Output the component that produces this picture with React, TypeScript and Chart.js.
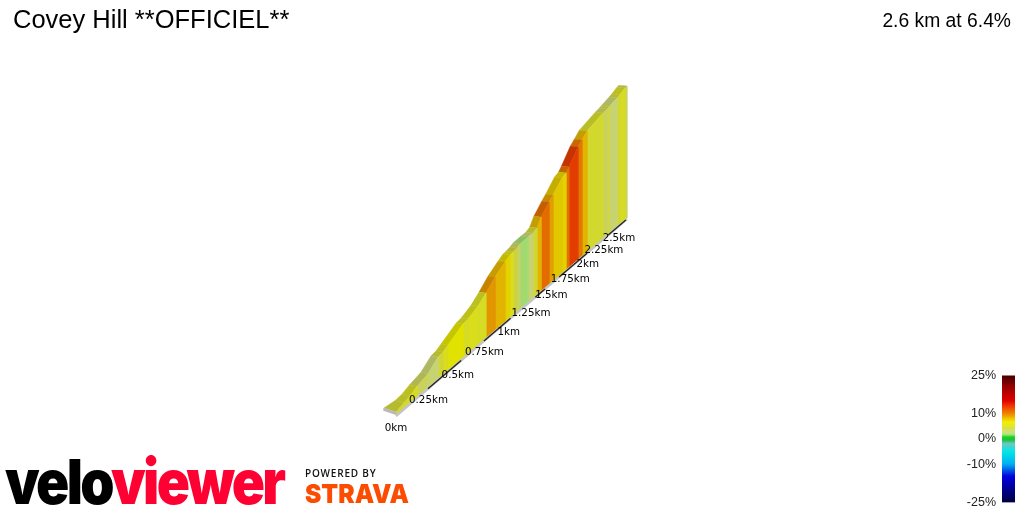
import { useEffect, useRef } from "react";
import { Chart, registerables } from "chart.js";

Chart.register(...registerables);

// road profile
const distanceKm = [
  0, 0.059, 0.105, 0.159, 0.246, 0.329, 0.371, 0.414, 0.547, 0.593, 0.687, 0.765, 0.856, 0.96, 1.013, 1.047, 1.09,
  1.124, 1.215, 1.273, 1.321, 1.371, 1.47, 1.52, 1.637, 1.692, 1.732, 1.857, 1.915, 1.989, 2.235, 2.3, 2.33, 2.467,
  2.517, 2.605, 2.64,
];
const elevationM = [
  2.4, 4.5, 6, 9, 12, 19.2, 20, 22.6, 30.6, 31.5, 36.2, 42.6, 51.3, 58.5, 61.8, 62.5, 63.7, 65.5, 66.7, 67.1, 69.3,
  77.6, 87.6, 92.3, 104.3, 106.9, 111.4, 127.6, 132.7, 139.6, 150, 152, 153.3, 158.8, 161, 165.7, 167,
];
const gradientPct = [
  4.5, 4.8, 5.2, 3.4, 3, 4.5, 5.5, 6.5, 5.2, 5.5, 5.2, 9, 8, 7, 5.5, 4, 3.2, 1.5, 3, 4.5, 8, 10.5, 8.7, 7.4, 7, 10.3,
  12.5, 10, 8, 4.8, 3.4, 4.6, 3, 4.6, 5.2, 3.4,
];
const darkEdgeKm = [
  [0.246, 0.53],
  [0.745, 1.02],
  [1.3, 1.42],
  [1.6, 1.99],
  [2.32, 2.62],
];
const kmTicks = [0, 0.25, 0.5, 0.75, 1, 1.25, 1.5, 1.75, 2, 2.25, 2.5];
const kmTickLabels = ["0km", "0.25km", "0.5km", "0.75km", "1km", "1.25km", "1.5km", "1.75km", "2km", "2.25km", "2.5km"];

// colour scale
const rampPct = [-25, -20, -15, -10, -5, -2, -1, 0, 1, 1.5, 3, 4, 5, 6.5, 8, 10, 12.5, 15, 20, 25];
const rampRgb = [
  [0, 0, 64],
  [0, 0, 144],
  [0, 0, 224],
  [0, 176, 240],
  [0, 232, 232],
  [112, 200, 192],
  [48, 192, 96],
  [0, 208, 32],
  [80, 208, 64],
  [172, 232, 118],
  [212, 224, 120],
  [218, 222, 70],
  [226, 232, 44],
  [240, 240, 0],
  [240, 192, 0],
  [240, 128, 0],
  [240, 64, 0],
  [224, 0, 0],
  [160, 0, 0],
  [64, 0, 0],
];
const legendTicks = [-25, -10, 0, 10, 25];
const legendBands = Array.from({ length: 100 }, (_, i) => -25 + i * 0.5);

const rampColor = (pct: number, shade = 1) => {
  let i = 0;
  while (i < rampPct.length - 2 && pct > rampPct[i + 1]) i++;
  const t = (pct - rampPct[i]) / (rampPct[i + 1] - rampPct[i]);
  const c = rampRgb[i].map((v, j) => Math.round((v + (rampRgb[i + 1][j] - v) * t) * shade));
  return `rgb(${c[0]},${c[1]},${c[2]})`;
};

// oblique perspective view of the road ribbon; back = far edge of the road surface
const project = (km: number, metres: number, back = 0) => {
  const s = 1 + 0.2135 * km;
  const flare = 1 / (1 + 20 * km);
  return {
    x: 396 + (136.8 * km) / s - back * (6 + 0.8 * km + 6 * flare),
    y: 415 - (116.6 * km + 1.237 * metres) / s - back * (0.5 + 3.5 * flare),
  };
};

const polygon = (points: { x: number; y: number }[], color: string) => ({
  data: points,
  fill: "shape",
  showLine: true,
  backgroundColor: color,
  borderColor: color,
  borderWidth: 0.6,
  pointRadius: 0,
});

const edgeLine = (from: number, to: number, color: string, width: number) => ({
  data: [project(from, 0), project(to, 0)].map((p) => ({ x: p.x, y: p.y + 1 })),
  showLine: true,
  fill: false,
  borderColor: color,
  borderWidth: width,
  pointRadius: 0,
});

const kmLabelPlugin = {
  id: "kmLabels",
  afterDatasetsDraw(chart: any) {
    const { ctx, scales } = chart;
    ctx.save();
    ctx.font = '10.3px "DejaVu Sans"';
    ctx.fillStyle = "#000";
    ctx.textAlign = "center";
    ctx.textBaseline = "middle";
    kmTicks.forEach((km, i) => {
      const p = project(km, 0);
      ctx.fillText(kmTickLabels[i], scales.x.getPixelForValue(p.x), scales.y.getPixelForValue(p.y) + 13);
    });
    ctx.restore();
  },
};

const App = () => {
  const profileRef = useRef<HTMLCanvasElement>(null);
  const legendRef = useRef<HTMLCanvasElement>(null);

  useEffect(() => {
    const walls = gradientPct.map((g, i) =>
      polygon(
        [
          project(distanceKm[i], 0),
          project(distanceKm[i], elevationM[i]),
          project(distanceKm[i + 1], elevationM[i + 1]),
          project(distanceKm[i + 1], 0),
        ],
        rampColor(g, 0.94)
      )
    );
    const tops = gradientPct.map((g, i) =>
      polygon(
        [
          project(distanceKm[i], elevationM[i]),
          project(distanceKm[i + 1], elevationM[i + 1]),
          project(distanceKm[i + 1], elevationM[i + 1], 1),
          project(distanceKm[i], elevationM[i], 1),
        ],
        rampColor(g, 0.82)
      )
    );
    const cap = polygon(
      [project(0, 0), project(0, elevationM[0]), project(0, elevationM[0], 1), project(0, 0, 1)],
      "#b9b9b9"
    );
    const lastKm = distanceKm[distanceKm.length - 1];

    const profile = new Chart(profileRef.current, {
      type: "scatter",
      data: {
        datasets: [
          ...darkEdgeKm.map(([a, b]) => edgeLine(a, b, "#222", 1.3)),
          edgeLine(0, lastKm, "#c4c4c4", 2.4),
          cap,
          ...walls,
          ...tops,
        ],
      },
      options: {
        animation: false,
        responsive: false,
        devicePixelRatio: 1,
        layout: { padding: 0 },
        plugins: { legend: { display: false }, tooltip: { enabled: false } },
        scales: {
          x: { type: "linear", min: 0, max: 1024, display: false },
          y: { type: "linear", min: 0, max: 512, reverse: true, display: false },
        },
      },
      plugins: [kmLabelPlugin],
    } as any);

    const legend = new Chart(legendRef.current, {
      type: "bar",
      data: {
        labels: ["gradient"],
        datasets: legendBands.map((g) => ({
          data: [[g, g + 0.55]],
          backgroundColor: rampColor(g + 0.25),
          grouped: false,
          barPercentage: 1,
          categoryPercentage: 1,
        })),
      },
      options: {
        animation: false,
        responsive: false,
        devicePixelRatio: 1,
        layout: { padding: 0 },
        plugins: { legend: { display: false }, tooltip: { enabled: false } },
        scales: {
          x: { display: false },
          y: {
            min: -25,
            max: 25,
            grid: { display: false, drawTicks: false },
            border: { display: false },
            afterBuildTicks: (axis: any) => {
              axis.ticks = legendTicks.map((value) => ({ value }));
            },
            afterFit: (axis: any) => {
              axis.width = 47;
            },
            ticks: {
              padding: 6,
              color: "#222",
              font: { family: '"Liberation Sans"', size: 12.5 },
              callback: (v: any) => `${v}%`,
            },
          },
        },
      },
    } as any);

    return () => {
      profile.destroy();
      legend.destroy();
    };
  }, []);

  return (
    <div style={{ position: "absolute", left: 0, top: 0, width: 1024, height: 512, overflow: "hidden", background: "#fff" }}>
      <canvas ref={profileRef} width={1024} height={512} style={{ position: "absolute", left: 0, top: 0 }} />
      <canvas ref={legendRef} width={60} height={154} style={{ position: "absolute", left: 955, top: 362 }} />
      <div style={{ position: "absolute", left: 13, top: 5, font: '25.5px "Liberation Sans"', color: "#000", whiteSpace: "nowrap" }}>
        Covey Hill **OFFICIEL**
      </div>
      <div style={{ position: "absolute", right: 13, top: 10, font: '19.3px "Liberation Sans"', color: "#000", whiteSpace: "nowrap" }}>
        2.6 km at 6.4%
      </div>
      <div
        style={{
          position: "absolute",
          left: 5,
          top: 444,
          font: '900 62px Inter',
          letterSpacing: -3,
          whiteSpace: "nowrap",
          transformOrigin: "left top",
          transform: "scaleX(0.885)",
        }}
      >
        <span style={{ color: "#000" }}>velo</span>
        <span style={{ color: "#ff0033" }}>viewer</span>
      </div>
      <div style={{ position: "absolute", left: 305, top: 466, font: '600 10px "Open Sans"', letterSpacing: 0.8, color: "#111", whiteSpace: "nowrap" }}>
        POWERED BY
      </div>
      <div
        style={{
          position: "absolute",
          left: 305,
          top: 478,
          font: '900 26px Inter',
          color: "#fc4c02",
          whiteSpace: "nowrap",
          transformOrigin: "left top",
          transform: "scaleX(0.945)",
        }}
      >
        STRAVA
      </div>
    </div>
  );
};

export default App;
